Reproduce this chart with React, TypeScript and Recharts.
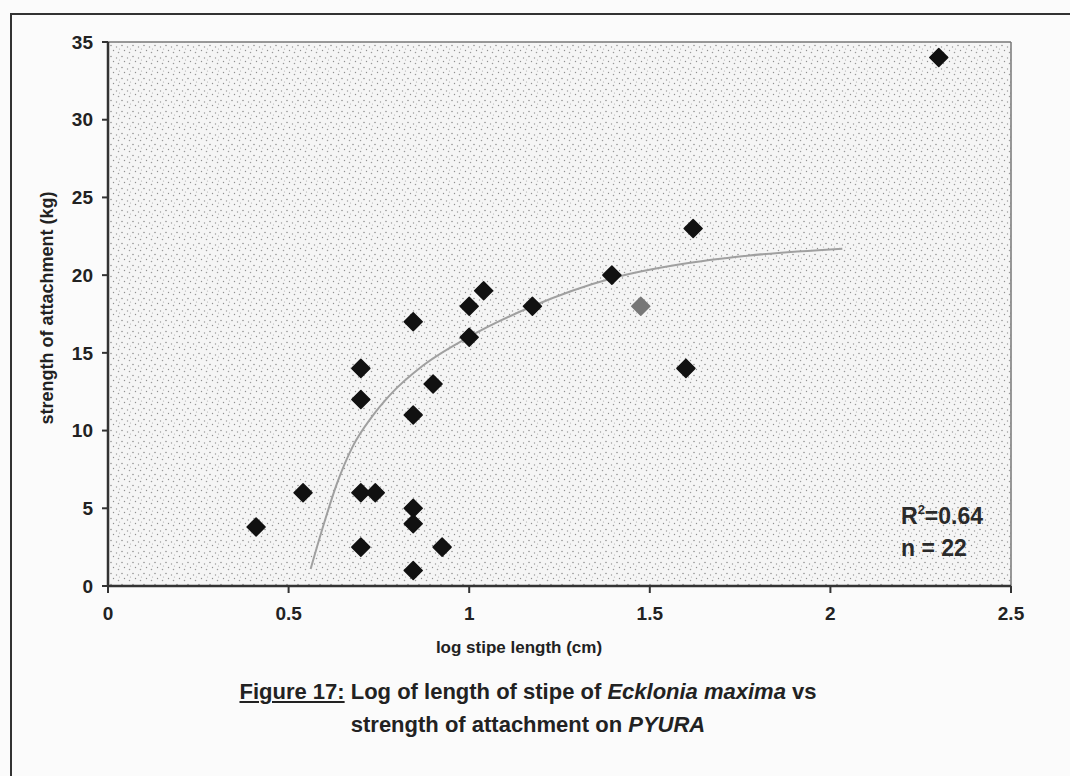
import React from "react";
import {
  ComposedChart,
  Scatter,
  Line,
  XAxis,
  YAxis,
  CartesianGrid,
  ReferenceLine,
} from "recharts";

// measured points (log stipe length vs strength of attachment)
const stipeLog = [0.41, 0.54, 0.70, 0.74, 0.70, 0.70, 0.70, 0.845, 0.845, 0.845, 0.845, 0.845, 0.90, 0.925, 1.0, 1.0, 1.04, 1.175, 1.395, 1.60, 1.62, 2.30];
const strength = [3.8, 6, 6, 6, 14, 12, 2.5, 17, 11, 5, 4, 1, 13, 2.5, 18, 16, 19, 18, 20, 14, 23, 34];

// the lighter grey marker
const greyX = [1.475];
const greyY = [18];

// fitted trend line
const trendX = [0.561, 0.595, 0.634, 0.678, 0.731, 0.781, 0.873, 0.997, 1.175, 1.396, 1.585, 1.77, 2.033];
const trendY = [1.1, 3.8, 6.6, 9.0, 10.9, 12.3, 14.2, 16.0, 18.0, 19.8, 20.7, 21.25, 21.7];

const xTicks = [0, 0.5, 1, 1.5, 2, 2.5];
const yTicks = [0, 5, 10, 15, 20, 25, 30, 35];

const points = stipeLog.map((x, i) => ({ x, y: strength[i] }));
const greyPoints = greyX.map((x, i) => ({ x, y: greyY[i] }));
const trend = trendX.map((x, i) => ({ x, y: trendY[i] }));

const font = "'Liberation Sans', Arial, sans-serif";

function Diamond(props: any) {
  const { cx, cy, fill } = props;
  const r = 9;
  return (
    <path
      d={`M${cx},${cy - r} L${cx + r},${cy} L${cx},${cy + r} L${cx - r},${cy} Z`}
      fill={fill}
      stroke={fill}
      strokeWidth={1.5}
      strokeLinejoin="round"
    />
  );
}

const tickStyle = { fill: "#222", fontSize: 19, fontWeight: 700, fontFamily: font };

export default function App() {
  return (
    <div
      style={{
        position: "absolute",
        left: 0,
        top: 0,
        width: 1070,
        height: 776,
        overflow: "hidden",
        background: "#fbfbfb",
        fontFamily: font,
      }}
    >
      {/* frame of the figure */}
      <div
        style={{
          position: "absolute",
          left: 10,
          top: 13,
          width: 1100,
          height: 820,
          borderLeft: "2px solid #333",
          borderTop: "2px solid #333",
        }}
      />
      <div style={{ position: "absolute", left: 0, top: 0 }}>
        <ComposedChart width={1070} height={776} margin={{ top: 42, right: 59, bottom: 0, left: 0 }}>
          <defs>
            <pattern id="stipple" width="11" height="11" patternUnits="userSpaceOnUse">
              <rect width="11" height="11" fill="#f5f5f5" />
              <circle cx="1" cy="1.5" r="0.75" fill="#8a8a8a" />
              <circle cx="6.5" cy="3" r="0.7" fill="#999" />
              <circle cx="3.5" cy="6.5" r="0.7" fill="#8f8f8f" />
              <circle cx="8.5" cy="8.5" r="0.75" fill="#9a9a9a" />
              <circle cx="9.5" cy="5" r="0.6" fill="#aaa" />
            </pattern>
          </defs>
          <CartesianGrid horizontal={false} vertical={false} fill="url(#stipple)" />
          <XAxis
            type="number"
            dataKey="x"
            domain={[0, 2.5]}
            ticks={xTicks}
            height={190}
            tick={tickStyle}
            tickSize={7}
            tickMargin={14}
            axisLine={{ stroke: "#333", strokeWidth: 2.5 }}
            tickLine={{ stroke: "#333", strokeWidth: 2 }}
          />
          <YAxis
            type="number"
            dataKey="y"
            domain={[0, 35]}
            ticks={yTicks}
            width={108}
            tick={tickStyle}
            tickSize={6}
            tickMargin={9}
            axisLine={{ stroke: "#333", strokeWidth: 2.5 }}
            tickLine={{ stroke: "#333", strokeWidth: 2 }}
          />
          <ReferenceLine y={35} stroke="#777" strokeWidth={1.5} />
          <ReferenceLine x={2.5} stroke="#777" strokeWidth={1.5} />
          <Line
            data={trend}
            dataKey="y"
            type="monotone"
            stroke="#a0a0a0"
            strokeWidth={2}
            dot={false}
            activeDot={false}
            isAnimationActive={false}
          />
          <Scatter data={points} fill="#111" shape={Diamond} isAnimationActive={false} />
          <Scatter data={greyPoints} fill="#777" shape={Diamond} isAnimationActive={false} />
        </ComposedChart>
      </div>

      {/* y axis title */}
      <div
        style={{
          position: "absolute",
          left: 47,
          top: 308,
          transform: "translate(-50%, -50%) rotate(-90deg)",
          whiteSpace: "nowrap",
          fontSize: 18,
          fontWeight: 700,
          color: "#222",
        }}
      >
        strength of attachment (kg)
      </div>

      {/* x axis title */}
      <div
        style={{
          position: "absolute",
          left: 519,
          top: 648,
          transform: "translate(-50%, -50%)",
          whiteSpace: "nowrap",
          fontSize: 17,
          fontWeight: 700,
          color: "#222",
        }}
      >
        log stipe length (cm)
      </div>

      {/* fit statistics */}
      <div
        style={{
          position: "absolute",
          left: 901,
          top: 500,
          fontSize: 23,
          fontWeight: 700,
          lineHeight: "32px",
          color: "#2a2a2a",
          whiteSpace: "nowrap",
        }}
      >
        <div>
          R<sup style={{ fontSize: 13, verticalAlign: "10px", lineHeight: 0 }}>2</sup>=0.64
        </div>
        <div>n = 22</div>
      </div>

      {/* caption */}
      <div
        style={{
          position: "absolute",
          left: 528,
          top: 708,
          transform: "translate(-50%, -50%)",
          textAlign: "center",
          whiteSpace: "nowrap",
          fontSize: 22,
          fontWeight: 700,
          lineHeight: "33px",
          color: "#222",
        }}
      >
        <div>
          <span style={{ textDecoration: "underline" }}>Figure 17:</span> Log of length of stipe of{" "}
          <i>Ecklonia maxima</i> vs
        </div>
        <div>
          strength of attachment on <i>PYURA</i>
        </div>
      </div>
    </div>
  );
}
